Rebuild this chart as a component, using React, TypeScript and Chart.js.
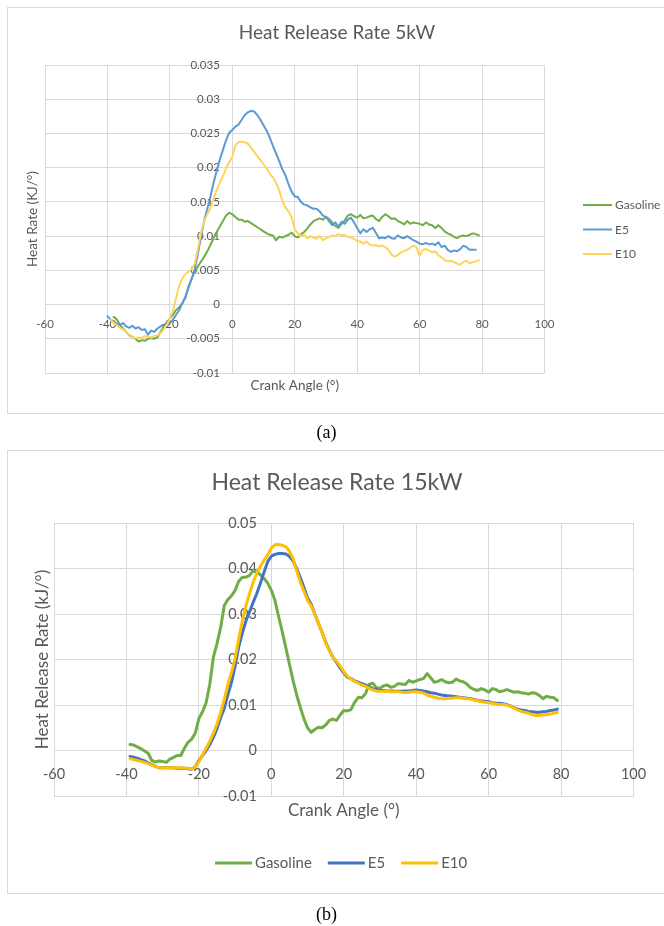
import React, { useEffect, useRef } from "react";
import { Chart, registerables } from "chart.js";

Chart.register(...registerables);

const FONT = "Lato, 'Open Sans', sans-serif";
const GRAY = "#595959";
const GRID = "#d9d9d9";

const seriesLabels = ["Gasoline", "E5", "E10"];

// Chart (a): 5 kW, crank angle -40..79 deg (1 deg step)
const angleStartA = -40;
const angleEndA = 79;
const anglesA = Array.from({ length: angleEndA - angleStartA + 1 }, (_, i) => angleStartA + i);

const gasolineA = [
  null, null, -0.0018, -0.0022, -0.0030, -0.0035, -0.0040, -0.0045, -0.0047, -0.0050,
  -0.0054, -0.0052, -0.0053, -0.0050, -0.0049, -0.0050, -0.0048, -0.0040, -0.0032, -0.0026,
  -0.0020, -0.0015, -0.0008, -0.0004, 0.0002, 0.0010, 0.0027, 0.0038, 0.0048, 0.0056,
  0.0063, 0.0070, 0.0078, 0.0087, 0.0097, 0.0106, 0.0114, 0.0122, 0.0130, 0.0134,
  0.0132, 0.0128, 0.0124, 0.0124, 0.0121, 0.0122, 0.0119, 0.0116, 0.0113, 0.0110,
  0.0107, 0.0104, 0.0102, 0.0101, 0.0094, 0.0099, 0.0098, 0.0100, 0.0102, 0.0105,
  0.0100, 0.0098, 0.0103, 0.0106, 0.0111, 0.0117, 0.0122, 0.0124, 0.0126, 0.0124,
  0.0128, 0.0125, 0.0120, 0.0115, 0.0112, 0.0118, 0.0123, 0.0130, 0.0132, 0.0129,
  0.0127, 0.0131, 0.0126, 0.0127, 0.0129, 0.0130, 0.0125, 0.0122, 0.0128, 0.0132,
  0.0129, 0.0125, 0.0126, 0.0122, 0.0120, 0.0117, 0.0122, 0.0118, 0.0120, 0.0119,
  0.0118, 0.0116, 0.0120, 0.0117, 0.0116, 0.0112, 0.0116, 0.0112, 0.0107, 0.0104,
  0.0102, 0.0099, 0.0097, 0.0100, 0.0101, 0.0100, 0.0102, 0.0104, 0.0103, 0.0101,
];

const e5A = [
  -0.0017, -0.0022, -0.0025, -0.0028, -0.0030, -0.0027, -0.0032, -0.0034, -0.0031, -0.0035,
  -0.0033, -0.0037, -0.0036, -0.0044, -0.0038, -0.0040, -0.0035, -0.0032, -0.0030, -0.0028,
  -0.0027, -0.0022, -0.0015, -0.0008, 0.0002, 0.0012, 0.0025, 0.0038, 0.0052, 0.0075,
  0.0100, 0.0123, 0.0140, 0.0158, 0.0178, 0.0195, 0.0212, 0.0226, 0.0240, 0.0251,
  0.0255, 0.0260, 0.0263, 0.0270, 0.0277, 0.0281, 0.0283, 0.0282, 0.0277, 0.0270,
  0.0262, 0.0254, 0.0244, 0.0232, 0.0221, 0.0210, 0.0198, 0.0189, 0.0176, 0.0165,
  0.0158, 0.0157, 0.0150, 0.0146, 0.0145, 0.0142, 0.0140, 0.0140, 0.0136, 0.0130,
  0.0128, 0.0122, 0.0116, 0.0120, 0.0114, 0.0121, 0.0118, 0.0124, 0.0127, 0.0120,
  0.0112, 0.0104, 0.0110, 0.0106, 0.0110, 0.0112, 0.0105, 0.0097, 0.0098, 0.0097,
  0.0100, 0.0097, 0.0096, 0.0101, 0.0098, 0.0097, 0.0100, 0.0097, 0.0094, 0.0092,
  0.0089, 0.0088, 0.0090, 0.0088, 0.0089, 0.0087, 0.0091, 0.0084, 0.0086, 0.0080,
  0.0077, 0.0079, 0.0078, 0.0081, 0.0086, 0.0084, 0.0080, 0.0080, 0.0080, null,
];

const e10A = [
  null, -0.0022, -0.0027, -0.0030, -0.0034, -0.0036, -0.0040, -0.0044, -0.0047, -0.0049,
  -0.0048, -0.0049, -0.0046, -0.0047, -0.0048, -0.0046, -0.0045, -0.0042, -0.0036, -0.0030,
  -0.0020, -0.0008, 0.0010, 0.0028, 0.0038, 0.0045, 0.0048, 0.0052, 0.0060, 0.0082,
  0.0106, 0.0122, 0.0132, 0.0141, 0.0155, 0.0168, 0.0178, 0.0188, 0.0199, 0.0208,
  0.0216, 0.0233, 0.0237, 0.0238, 0.0237, 0.0235, 0.0229, 0.0223, 0.0217, 0.0211,
  0.0205, 0.0199, 0.0191, 0.0186, 0.0178, 0.0167, 0.0152, 0.0142, 0.0136, 0.0128,
  0.0110, 0.0104, 0.0100, 0.0102, 0.0097, 0.0100, 0.0098, 0.0096, 0.0100, 0.0094,
  0.0097, 0.0099, 0.0101, 0.0100, 0.0103, 0.0101, 0.0102, 0.0099, 0.0098, 0.0096,
  0.0093, 0.0092, 0.0089, 0.0092, 0.0088, 0.0086, 0.0087, 0.0085, 0.0086, 0.0084,
  0.0080, 0.0073, 0.0070, 0.0072, 0.0076, 0.0078, 0.0080, 0.0083, 0.0086, 0.0084,
  0.0071, 0.0080, 0.0081, 0.0079, 0.0076, 0.0078, 0.0072, 0.0069, 0.0065, 0.0063,
  0.0064, 0.0062, 0.0060, 0.0058, 0.0062, 0.0064, 0.0060, 0.0062, 0.0063, 0.0065,
];

// Chart (b): 15 kW, crank angle -39..79 deg (1 deg step)
const angleStartB = -39;
const angleEndB = 79;
const anglesB = Array.from({ length: angleEndB - angleStartB + 1 }, (_, i) => angleStartB + i);

const gasolineB = [
  0.0013, 0.0012, 0.0008, 0.0004, -0.0001, -0.0006, -0.0022, -0.0025, -0.0023, -0.0024,
  -0.0026, -0.0019, -0.0015, -0.0011, -0.0011, 0.0005, 0.0018, 0.0025, 0.0038, 0.0070,
  0.0085, 0.0105, 0.0145, 0.0205, 0.0235, 0.0270, 0.0318, 0.0332, 0.0340, 0.0352,
  0.0372, 0.0381, 0.0381, 0.0385, 0.0396, 0.0393, 0.0386, 0.0378, 0.0368, 0.0352,
  0.0330, 0.0295, 0.0262, 0.0226, 0.0190, 0.0154, 0.0122, 0.0095, 0.0070, 0.0050,
  0.0040, 0.0046, 0.0051, 0.0050, 0.0056, 0.0066, 0.0069, 0.0066, 0.0078, 0.0088,
  0.0087, 0.0090, 0.0106, 0.0117, 0.0116, 0.0125, 0.0145, 0.0148, 0.0138, 0.0137,
  0.0142, 0.0144, 0.0139, 0.0141, 0.0147, 0.0146, 0.0145, 0.0154, 0.0150, 0.0153,
  0.0156, 0.0158, 0.0169, 0.0160, 0.0150, 0.0152, 0.0156, 0.0151, 0.0149, 0.0150,
  0.0157, 0.0153, 0.0151, 0.0146, 0.0138, 0.0134, 0.0132, 0.0136, 0.0133, 0.0128,
  0.0136, 0.0134, 0.0129, 0.0131, 0.0134, 0.0131, 0.0128, 0.0129, 0.0127, 0.0126,
  0.0124, 0.0127, 0.0126, 0.0121, 0.0114, 0.0119, 0.0117, 0.0116, 0.0110,
];

const e5B = [
  -0.0013, -0.0015, -0.0017, -0.0020, -0.0023, -0.0027, -0.0031, -0.0035, -0.0038, -0.0038,
  -0.0038, -0.0038, -0.0038, -0.0039, -0.0039, -0.0039, -0.0040, -0.0041, -0.0036, -0.0022,
  -0.0011, 0.0000, 0.0013, 0.0029, 0.0048, 0.0072, 0.0092, 0.0122, 0.0150, 0.0185,
  0.0228, 0.0258, 0.0285, 0.0305, 0.0326, 0.0345, 0.0368, 0.0392, 0.0415, 0.0427,
  0.0431, 0.0433, 0.0433, 0.0432, 0.0427, 0.0417, 0.0400, 0.0380, 0.0358, 0.0335,
  0.0322, 0.0300, 0.0280, 0.0260, 0.0238, 0.0221, 0.0205, 0.0194, 0.0181, 0.0171,
  0.0161, 0.0158, 0.0153, 0.0150, 0.0147, 0.0144, 0.0140, 0.0136, 0.0134, 0.0132,
  0.0132, 0.0131, 0.0131, 0.0130, 0.0130, 0.0130, 0.0131, 0.0131, 0.0132, 0.0133,
  0.0132, 0.0131, 0.0129, 0.0127, 0.0126, 0.0124, 0.0122, 0.0121, 0.0120, 0.0119,
  0.0118, 0.0117, 0.0116, 0.0115, 0.0114, 0.0112, 0.0110, 0.0109, 0.0108, 0.0107,
  0.0105, 0.0104, 0.0104, 0.0103, 0.0101, 0.0098, 0.0094, 0.0091, 0.0089, 0.0088,
  0.0086, 0.0085, 0.0084, 0.0084, 0.0085, 0.0086, 0.0088, 0.0089, 0.0091,
];

const e10B = [
  -0.0018, -0.0020, -0.0022, -0.0024, -0.0026, -0.0029, -0.0032, -0.0035, -0.0038, -0.0038,
  -0.0038, -0.0038, -0.0038, -0.0038, -0.0038, -0.0039, -0.0039, -0.0041, -0.0036, -0.0025,
  -0.0010, 0.0005, 0.0020, 0.0038, 0.0058, 0.0083, 0.0112, 0.0145, 0.0172, 0.0202,
  0.0245, 0.0285, 0.0318, 0.0345, 0.0370, 0.0390, 0.0405, 0.0418, 0.0430, 0.0445,
  0.0452, 0.0453, 0.0451, 0.0448, 0.0438, 0.0422, 0.0395, 0.0370, 0.0350, 0.0330,
  0.0318, 0.0300, 0.0280, 0.0260, 0.0236, 0.0220, 0.0205, 0.0197, 0.0185, 0.0174,
  0.0163, 0.0157, 0.0152, 0.0148, 0.0144, 0.0141, 0.0137, 0.0133, 0.0131, 0.0130,
  0.0130, 0.0130, 0.0129, 0.0129, 0.0129, 0.0128, 0.0127, 0.0128, 0.0129, 0.0129,
  0.0128, 0.0126, 0.0122, 0.0119, 0.0117, 0.0115, 0.0114, 0.0114, 0.0115, 0.0115,
  0.0116, 0.0116, 0.0115, 0.0114, 0.0113, 0.0111, 0.0109, 0.0107, 0.0106, 0.0105,
  0.0104, 0.0102, 0.0101, 0.0101, 0.0100, 0.0097, 0.0093, 0.0089, 0.0086, 0.0084,
  0.0082, 0.0079, 0.0077, 0.0077, 0.0078, 0.0079, 0.0080, 0.0082, 0.0084,
];

const titleA = "Heat Release Rate 5kW";
const titleB = "Heat Release Rate 15kW";
const xTitle = "Crank Angle (\u00B0)";
const yTitleA = "Heat Rate (KJ/\u00B0)";
const yTitleB = "Heat Release Rate (kJ/\u00B0)";

const xMin = -60;
const xMax = 100;
const xStep = 20;
const yMinA = -0.01;
const yMaxA = 0.035;
const yStepA = 0.005;
const yMinB = -0.01;
const yMaxB = 0.05;
const yStepB = 0.01;

const colorsA = ["#70AD47", "#5B9BD5", "#FFD45C"];
const colorsB = ["#70AD47", "#4472C4", "#FFC000"];

type Decor = {
  title: string;
  titleFont: number;
  titleY: number;
  yTitle: string;
  yTitleX: number;
  xTitleY: number;
  axisFont: number;
  legendFont: number;
  legendMode: "right" | "bottom";
  legendX: number;
  legendY: number;
  legendLine: number;
  legendRowGap: number;
  lineWidth: number;
};

function decorPlugin(d: Decor) {
  return {
    id: "decor",
    afterDraw(chart: any) {
      const ctx: CanvasRenderingContext2D = chart.ctx;
      const ca = chart.chartArea;
      ctx.save();
      ctx.fillStyle = GRAY;
      ctx.textBaseline = "middle";
      // title
      ctx.font = `${d.titleFont}px ${FONT}`;
      ctx.textAlign = "center";
      ctx.fillText(d.title, 337, d.titleY);
      // x axis title
      ctx.font = `${d.axisFont}px ${FONT}`;
      ctx.fillText(xTitle, (ca.left + ca.right) / 2, d.xTitleY);
      // y axis title
      ctx.save();
      ctx.translate(d.yTitleX, (ca.top + ca.bottom) / 2);
      ctx.rotate(-Math.PI / 2);
      ctx.fillText(d.yTitle, 0, 0);
      ctx.restore();
      // legend
      ctx.font = `${d.legendFont}px ${FONT}`;
      ctx.textAlign = "left";
      const ds = chart.data.datasets;
      let x = d.legendX;
      for (let i = 0; i < ds.length; i++) {
        const label = ds[i].label as string;
        const color = ds[i].borderColor as string;
        const y = d.legendMode === "right" ? d.legendY + i * d.legendRowGap : d.legendY;
        const lx = d.legendMode === "right" ? d.legendX : x;
        ctx.strokeStyle = color;
        ctx.lineWidth = d.lineWidth;
        ctx.beginPath();
        ctx.moveTo(lx, y);
        ctx.lineTo(lx + d.legendLine, y);
        ctx.stroke();
        ctx.fillStyle = GRAY;
        ctx.fillText(label, lx + d.legendLine + 3, y + 0.5);
        const w = ctx.measureText(label).width;
        x = lx + d.legendLine + 3 + w + 16;
      }
      ctx.restore();
    },
  };
}

function fmt(v: any) {
  const n = Number(v);
  const s = String(parseFloat(n.toFixed(4)));
  return s === "-0" ? "0" : s;
}

function makeChart(
  canvas: HTMLCanvasElement,
  angles: number[],
  series: (number | null)[][],
  colors: string[],
  lineWidth: number,
  yMin: number,
  yMax: number,
  yStep: number,
  tickFont: number,
  padding: any,
  yLabelOffset: number,
  xLabelPad: number,
  decor: Decor
) {
  const datasets = series.map((vals, si) => ({
    label: seriesLabels[si],
    data: angles.map((a, i) => ({ x: a, y: vals[i] })),
    borderColor: colors[si],
    backgroundColor: colors[si],
    borderWidth: lineWidth,
    pointRadius: 0,
    tension: 0,
    fill: false,
    spanGaps: false,
    borderJoinStyle: "round" as const,
    borderCapStyle: "round" as const,
    order: series.length - si,
  }));
  return new Chart(canvas, {
    type: "line",
    data: { datasets },
    options: {
      responsive: false,
      animation: false,
      devicePixelRatio: 1,
      layout: { padding },
      events: [],
      plugins: { legend: { display: false }, tooltip: { enabled: false }, title: { display: false } },
      scales: {
        x: {
          type: "linear",
          min: xMin,
          max: xMax,
          position: { y: 0 } as any,
          ticks: {
            stepSize: xStep,
            autoSkip: false,
            maxRotation: 0,
            padding: xLabelPad,
            color: GRAY,
            font: { family: FONT, size: tickFont },
            callback: (v: any) => String(v),
          },
          grid: { color: GRID, lineWidth: 1, drawTicks: false },
          border: { display: false },
        },
        y: {
          type: "linear",
          min: yMin,
          max: yMax,
          position: { x: yLabelOffset } as any,
          ticks: {
            stepSize: yStep,
            autoSkip: false,
            padding: 0,
            color: GRAY,
            font: { family: FONT, size: tickFont },
            callback: (v: any) => fmt(v),
          },
          grid: { color: GRID, lineWidth: 1, drawTicks: false },
          border: { display: false },
        },
      },
    },
    plugins: [decorPlugin(decor)],
  });
}

export default function App() {
  const refA = useRef<HTMLCanvasElement | null>(null);
  const refB = useRef<HTMLCanvasElement | null>(null);

  useEffect(() => {
    const a = makeChart(
      refA.current!,
      anglesA,
      [gasolineA, e5A, e10A],
      colorsA,
      2,
      yMinA,
      yMaxA,
      yStepA,
      11.5,
      { left: 45, right: 119.5, top: 65, bottom: 47 },
      -4,
      13,
      {
        title: titleA,
        titleFont: 19,
        titleY: 33,
        yTitle: yTitleA,
        yTitleX: 33,
        xTitleY: 386,
        axisFont: 13.5,
        legendFont: 12,
        legendMode: "right",
        legendX: 583,
        legendY: 205,
        legendLine: 29,
        legendRowGap: 24.5,
        lineWidth: 2,
      }
    );
    const b = makeChart(
      refB.current!,
      anglesB,
      [gasolineB, e5B, e10B],
      colorsB,
      3,
      yMinB,
      yMaxB,
      yStepB,
      14.5,
      { left: 54, right: 30.5, top: 83, bottom: 114 },
      -4,
      15,
      {
        title: titleB,
        titleFont: 23,
        titleY: 43,
        yTitle: yTitleB,
        yTitleX: 42.5,
        xTitleY: 371,
        axisFont: 17,
        legendFont: 15,
        legendMode: "bottom",
        legendX: 215,
        legendY: 423,
        legendLine: 37,
        legendRowGap: 0,
        lineWidth: 3,
      }
    );
    return () => {
      a.destroy();
      b.destroy();
    };
  }, []);

  const boxStyle = (top: number, height: number): React.CSSProperties => ({
    position: "absolute",
    left: 7,
    top,
    width: 665,
    height,
    border: "1px solid #d9d9d9",
    boxSizing: "border-box",
    background: "#fff",
  });
  const capStyle = (top: number): React.CSSProperties => ({
    position: "absolute",
    left: 0,
    top,
    width: 653,
    textAlign: "center",
    fontFamily: "'Liberation Serif', 'Times New Roman', serif",
    fontSize: 18,
    lineHeight: "20px",
    color: "#000",
  });

  return (
    <div
      style={{
        position: "absolute",
        left: 0,
        top: 0,
        width: 664,
        height: 926,
        overflow: "hidden",
        background: "#fff",
      }}
    >
      <div style={boxStyle(7, 407)} />
      <div style={boxStyle(450, 444)} />
      <canvas
        ref={refA}
        width={664}
        height={420}
        style={{ position: "absolute", left: 0, top: 0, width: 664, height: 420 }}
      />
      <canvas
        ref={refB}
        width={664}
        height={470}
        style={{ position: "absolute", left: 0, top: 440, width: 664, height: 470 }}
      />
      <div style={capStyle(422)}>(a)</div>
      <div style={capStyle(904)}>(b)</div>
    </div>
  );
}
